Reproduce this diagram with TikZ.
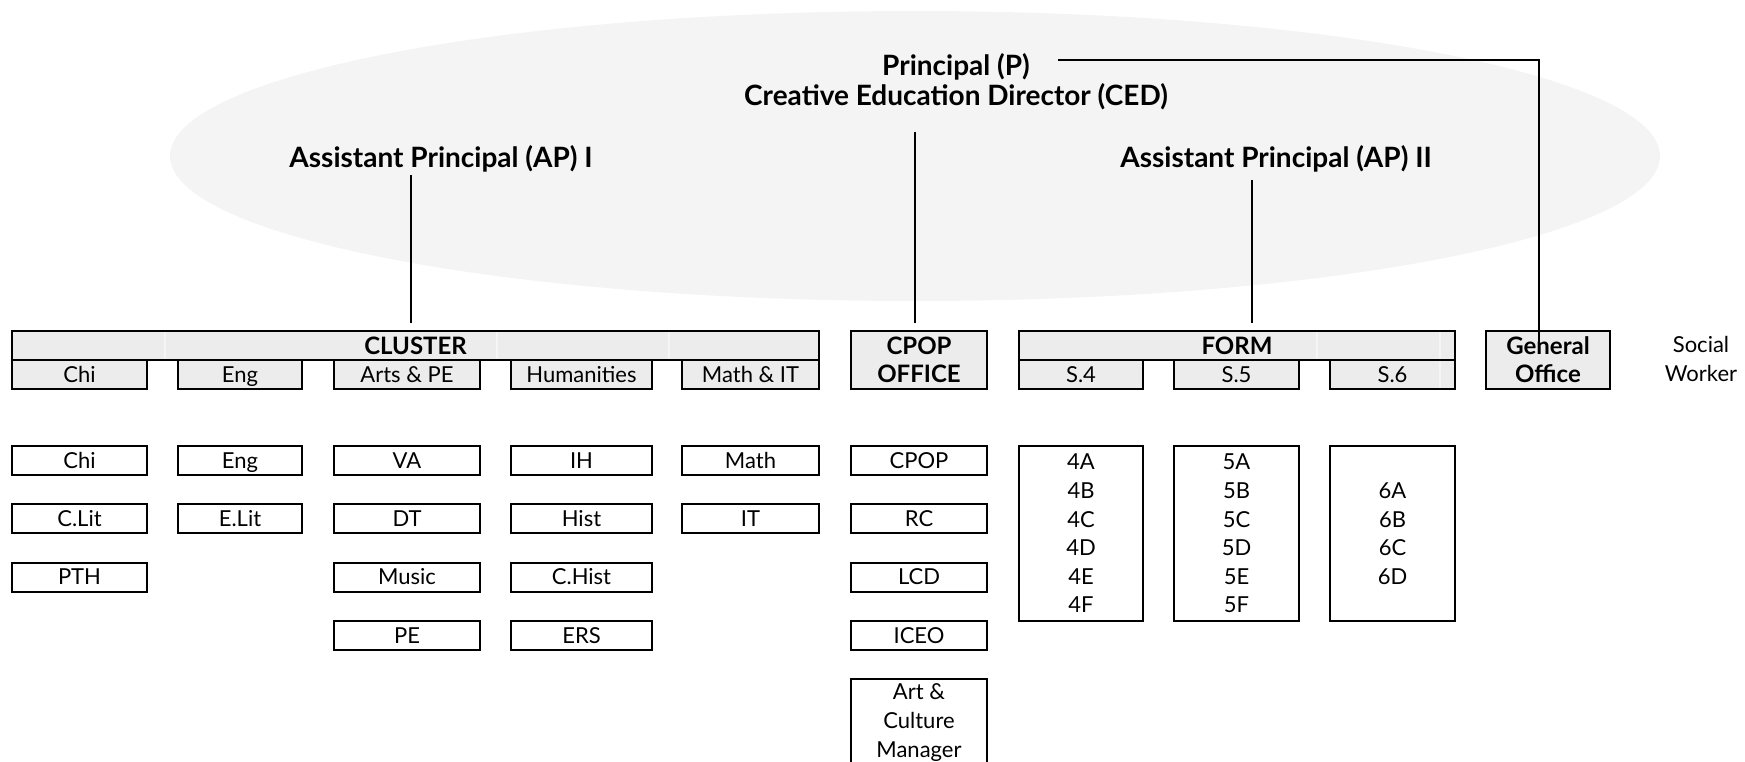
\documentclass[tikz,border=0pt]{standalone}
\usepackage{fontspec}
\setmainfont{Lato}
\newcommand{\rmsz}{\fontsize{11}{14.3}\selectfont}
\newcommand{\bfsz}{\fontsize{12}{14}\selectfont\bfseries}
\begin{document}
\begin{tikzpicture}[x=0.5pt,y=-0.5pt,line width=1pt,font=\rmsz,
  hd/.style={font=\fontsize{14}{15}\selectfont\bfseries,inner sep=0pt,anchor=base},
  barcell/.style={draw,fill=gray!15,inner sep=0pt,minimum height=14.5pt,text height=7.8pt,text depth=0pt},
  cell/.style={draw,inner sep=0pt,minimum height=14.5pt,text height=7.8pt,text depth=0pt},
  office/.style={draw,fill=gray!15,inner sep=0pt,minimum height=29pt,align=center,font=\bfsz},
  classbox/.style={draw,inner sep=0pt,minimum height=87.5pt,align=center}]
\clip (0,0) rectangle (1745,761);
\fill[gray!9] (915,156) ellipse [x radius=372.5pt,y radius=72.5pt];
% management
\node[hd] (prin) at (956,75) {Principal (P)};
\node[hd] (ced) at (956,105) {Creative Education Director (CED)};
\node[hd] (apone) at (441,167) {Assistant Principal (AP) I};
\node[hd] (aptwo) at (1276,167) {Assistant Principal (AP) II};
% top bars
\node[barcell,minimum width=403.5pt,font=\bfsz,text height=8.6pt] (cluster) at (415.5,345.5) {CLUSTER};
\node[barcell,minimum width=218pt,font=\bfsz,text height=8.6pt] (form) at (1237,345.5) {FORM};
\node[office,minimum width=68pt] (cpop) at (919,360) {CPOP\\OFFICE};
\node[office,minimum width=62pt] (gen) at (1548,360) {General\\Office};
\node[align=center,inner sep=0pt,font=\fontsize{11}{14.5}\selectfont] (sw) at (1701,359) {Social\\Worker};
\foreach \x in {165,497,669,1317,1440}{\draw[gray!8,line width=0.6pt] (\x,332) -- (\x,359);}
\foreach \nm/\a/\b/\t in {chi/12/147/Chi,eng/178/302/Eng,arts/334/480/Arts \& PE,hum/511/652/Humanities,math/682/819/Math \& IT,sfour/1019/1143/S.4,sfive/1174/1299/S.5,ssix/1330/1455/S.6}{
\pgfmathsetmacro{\w}{(\b-\a)/2}
\pgfmathsetmacro{\c}{(\a+\b)/2}
\node[barcell,minimum width=\w pt] (\nm) at (\c,374.5) {\t};
}
\draw[gray!8,line width=0.6pt] (1440,361) -- (1440,388);
% subjects and offices
\foreach \nm/\a/\b/\items in {chi/12/147/{Chi,C.Lit,PTH},eng/178/302/{Eng,E.Lit},arts/334/480/{VA,DT,Music,PE},hum/511/652/{IH,Hist,C.Hist,ERS},math/682/819/{Math,IT},cpop/851/987/{CPOP,RC,LCD,ICEO}}{
\pgfmathsetmacro{\w}{(\b-\a)/2}
\pgfmathsetmacro{\c}{(\a+\b)/2}
\foreach \t [count=\r] in \items{
\pgfmathsetmacro{\yy}{460.5+58.3*(\r-1)}
\node[cell,minimum width=\w pt] (\nm-\r) at (\c,\yy) {\t};
}
}
\node[draw,anchor=north,minimum width=68pt,inner xsep=0pt,inner ysep=2.5pt,align=center,text depth=20pt] (acm) at (919,678) {Art \&\\Culture\\Manager};
% classes
\node[classbox,minimum width=62pt] (cfour) at (1081,533.5) {4A\\4B\\4C\\4D\\4E\\4F};
\node[classbox,minimum width=62.5pt] (cfive) at (1236.5,533.5) {5A\\5B\\5C\\5D\\5E\\5F};
\node[classbox,minimum width=62.5pt] (csix) at (1392.5,533.5) {6A\\6B\\6C\\6D};
% links
\coordinate (pline) at (1058,60);
\coordinate (gjoin) at (1539,342);
\draw (pline) -| (gjoin);
\coordinate (aponefoot) at (411,175);
\coordinate (cedfoot) at (915,132);
\coordinate (aptwofoot) at (1252,180);
\draw[shorten >=3.5pt] (aponefoot) -- (aponefoot |- cluster.north);
\draw[shorten >=3.5pt] (cedfoot) -- (cedfoot |- cpop.north);
\draw[shorten >=3.5pt] (aptwofoot) -- (aptwofoot |- form.north);
\end{tikzpicture}
\end{document}
